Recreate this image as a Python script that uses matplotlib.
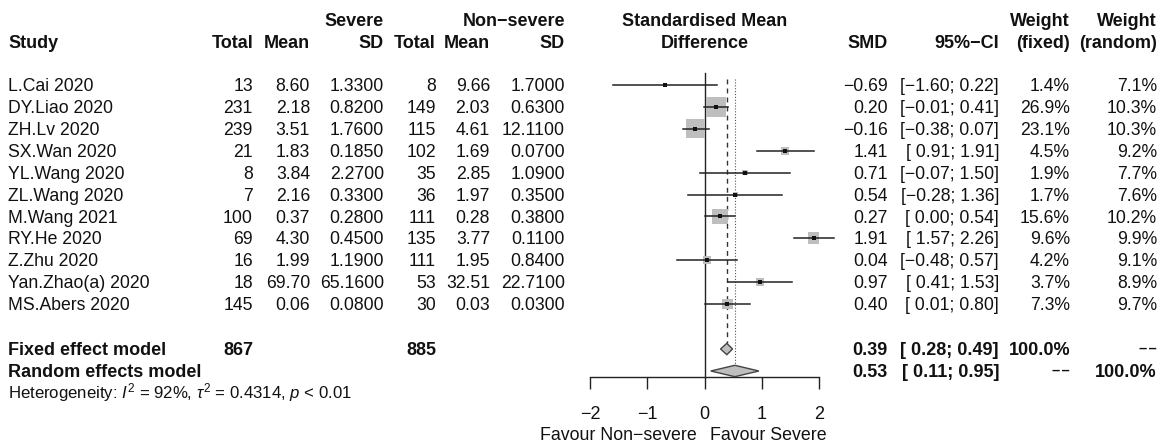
import numpy as np
import matplotlib
matplotlib.use("Agg")
import matplotlib.pyplot as plt
from matplotlib.transforms import blended_transform_factory
from matplotlib.patches import Rectangle, Polygon

plt.rcParams['font.family'] = ['Liberation Sans', 'DejaVu Sans']
plt.rcParams['mathtext.fontset'] = 'custom'
plt.rcParams['mathtext.rm'] = 'Liberation Sans'
plt.rcParams['mathtext.it'] = 'Liberation Sans:italic'

# ---------------- data ----------------
studies = ["L.Cai 2020", "DY.Liao 2020", "ZH.Lv 2020", "SX.Wan 2020", "YL.Wang 2020",
           "ZL.Wang 2020", "M.Wang 2021", "RY.He 2020", "Z.Zhu 2020",
           "Yan.Zhao(a) 2020", "MS.Abers 2020"]
n_sev = [13, 231, 239, 21, 8, 7, 100, 69, 16, 18, 145]
mean_sev = [8.60, 2.18, 3.51, 1.83, 3.84, 2.16, 0.37, 4.30, 1.99, 69.70, 0.06]
sd_sev = [1.3300, 0.8200, 1.7600, 0.1850, 2.2700, 0.3300, 0.2800, 0.4500, 1.1900, 65.1600, 0.0800]
n_non = [8, 149, 115, 102, 35, 36, 111, 135, 111, 53, 30]
mean_non = [9.66, 2.03, 4.61, 1.69, 2.85, 1.97, 0.28, 3.77, 1.95, 32.51, 0.03]
sd_non = [1.7000, 0.6300, 12.1100, 0.0700, 1.0900, 0.3500, 0.3800, 0.1100, 0.8400, 22.7100, 0.0300]
smd = [-0.69, 0.20, -0.16, 1.41, 0.71, 0.54, 0.27, 1.91, 0.04, 0.97, 0.40]
ci_lo = [-1.60, -0.01, -0.38, 0.91, -0.07, -0.28, 0.00, 1.57, -0.48, 0.41, 0.01]
ci_hi = [0.22, 0.41, 0.07, 1.91, 1.50, 1.36, 0.54, 2.26, 0.57, 1.53, 0.80]
w_fixed = [1.4, 26.9, 23.1, 4.5, 1.9, 1.7, 15.6, 9.6, 4.2, 3.7, 7.3]
w_random = [7.1, 10.3, 10.3, 9.2, 7.7, 7.6, 10.2, 9.9, 9.1, 8.9, 9.7]
total_sev = 867
total_non = 885
fixed_est, fixed_lo, fixed_hi = 0.39, 0.28, 0.49
random_est, random_lo, random_hi = 0.53, 0.11, 0.95
xticks = [-2, -1, 0, 1, 2]
het_text = r"Heterogeneity: $I^2$ = 92%, $\tau^2$ = 0.4314, $p$ < 0.01"

# ---------------- layout ----------------
W, H = 1172, 447
fig = plt.figure(figsize=(W / 100, H / 100), dpi=100)
ROW0, DROW = 85.0, 21.9          # pixel y of first study row, row spacing
AX_X0, AX_X1 = 590.0, 819.0      # pixel x of -2 and 2
AX_BOT = 377.0                   # pixel y of axis line
r_top = (0 - ROW0) / DROW
r_bot = (AX_BOT - ROW0) / DROW
ax = fig.add_axes([AX_X0 / W, (H - AX_BOT) / H, (AX_X1 - AX_X0) / W, AX_BOT / H])
ax.set_xlim(-2, 2)
ax.set_ylim(r_bot, r_top)
for s in ['top', 'left', 'right']:
    ax.spines[s].set_visible(False)
ax.spines['bottom'].set_linewidth(1.0)
ax.spines['bottom'].set_color('#222222')
ax.set_yticks([])
ax.set_xticks(xticks)
ax.set_xticklabels([str(t).replace('-', '\u2212') for t in xticks])
ax.tick_params(axis='x', direction='out', length=8.6, width=1.0, color='#222222',
               pad=12.5, labelsize=13, labelcolor='#111111')
ax.patch.set_alpha(0)

tr = blended_transform_factory(fig.transFigure, ax.transData)
FS = 12.7
FSB = 13.0
BASE = 0.28  # baseline offset in row units

def txt(px, r, s, ha='right', bold=False, size=None, color='#111111'):
    if size is None:
        size = FSB if bold else FS
    fig.text(px / W, r + BASE, s, transform=tr, ha=ha, va='baseline',
             fontsize=size, fontweight='bold' if bold else 'normal', color=color)

def fmt(v, d=2):
    return f"{v:.{d}f}".replace('-', '\u2212')

def ci(lo, hi, pad):
    l = fmt(lo)
    if pad and lo >= 0:
        l = " " + l
    return f"[{l}; {fmt(hi)}]"

pad_ci = any(v < 0 for v in ci_lo)
DASH = "\u2013\u200a\u2013"
DASH_UP = 0.09

# headers
rh1, rh2 = -2.97, -1.96
txt(384, rh1, "Severe", bold=True)
txt(565, rh1, "Non\u2212severe", bold=True)
txt(8, rh2, "Study", ha='left', bold=True)
for px, s in [(253, "Total"), (310, "Mean"), (384, "SD"), (436, "Total"), (490, "Mean"),
              (565, "SD"), (888, "SMD"), (999, "95%\u2212CI"), (1070, "(fixed)"), (1157, "(random)")]:
    txt(px, rh2, s, bold=True)
txt(705, rh1, "Standardised Mean", ha='center', bold=True)
txt(705, rh2, "Difference", ha='center', bold=True)
txt(1070, rh1, "Weight", bold=True)
txt(1157, rh1, "Weight", bold=True)

# study rows
for i, name in enumerate(studies):
    txt(8, i, name, ha='left')
    txt(253, i, str(n_sev[i]))
    txt(310, i, fmt(mean_sev[i], 2))
    txt(384, i, fmt(sd_sev[i], 4))
    txt(436, i, str(n_non[i]))
    txt(490, i, fmt(mean_non[i], 2))
    txt(565, i, fmt(sd_non[i], 4))
    txt(888, i, fmt(smd[i]))
    txt(999, i, ci(ci_lo[i], ci_hi[i], pad_ci))
    txt(1070, i, f"{w_fixed[i]:.1f}%")
    txt(1157, i, f"{w_random[i]:.1f}%")

n = len(studies)
r_fix = (349 - ROW0) / DROW
r_ran = (371 - ROW0) / DROW
r_het = (392 - ROW0) / DROW
txt(8, r_fix, "Fixed effect model", ha='left', bold=True)
txt(253, r_fix, str(total_sev), bold=True)
txt(436, r_fix, str(total_non), bold=True)
txt(888, r_fix, fmt(fixed_est), bold=True)
txt(999, r_fix, ci(fixed_lo, fixed_hi, True), bold=True)
txt(1070, r_fix, "100.0%", bold=True)
txt(1157, r_fix - DASH_UP, DASH, bold=True, size=10.5)
txt(8, r_ran, "Random effects model", ha='left', bold=True)
txt(888, r_ran, fmt(random_est), bold=True)
txt(999, r_ran, ci(random_lo, random_hi, True), bold=True)
txt(1070, r_ran - DASH_UP, DASH, bold=True, size=10.5)
txt(1157, r_ran, "100.0%", bold=True)
txt(8, r_het, het_text, ha='left', size=12.1)

# favour labels
r_fav = (434 - ROW0) / DROW
txt(697, r_fav, "Favour Non\u2212severe", ha='right', size=12.8)
txt(710, r_fav, "Favour Severe", ha='left', size=12.8)

# ---------------- forest marks ----------------
PX_X = (AX_X1 - AX_X0) / 4.0
max_side = 20.5
wmax = max(w_fixed)
dh = 0.26  # diamond half-height in rows

# reference lines
ax.plot([0, 0], [(73 - ROW0) / DROW, r_bot], color='#222222', lw=1.0, clip_on=False, zorder=2)
ax.plot([fixed_est, fixed_est], [(79 - ROW0) / DROW, r_fix - dh], color='#333333', lw=1.0,
        ls=(0, (3.5, 3)), zorder=2)
ax.plot([random_est, random_est], [(79 - ROW0) / DROW, r_ran - dh], color='#555555', lw=0.8,
        ls=(0, (1, 1.6)), zorder=2)

for i in range(n):
    side = max_side * np.sqrt(w_fixed[i] / wmax)
    wx = side / PX_X
    hy = side / DROW
    ax.add_patch(Rectangle((smd[i] - wx / 2, i - hy / 2), wx, hy, facecolor='#BEBEBE',
                           edgecolor='none', zorder=3))
    ax.plot([ci_lo[i], ci_hi[i]], [i, i], color='#222222', lw=1.1, zorder=4, clip_on=False)
    ax.plot([smd[i]], [i], marker='s', ms=2.6, color='#111111', mew=0, zorder=5)

for est, lo, hi, r in [(fixed_est, fixed_lo, fixed_hi, r_fix), (random_est, random_lo, random_hi, r_ran)]:
    ax.add_patch(Polygon([[lo, r], [est, r - dh], [hi, r], [est, r + dh]], closed=True,
                         facecolor='#BEBEBE', edgecolor='#444444', lw=1.0, zorder=4))

fig.savefig("out.png", dpi=100)
